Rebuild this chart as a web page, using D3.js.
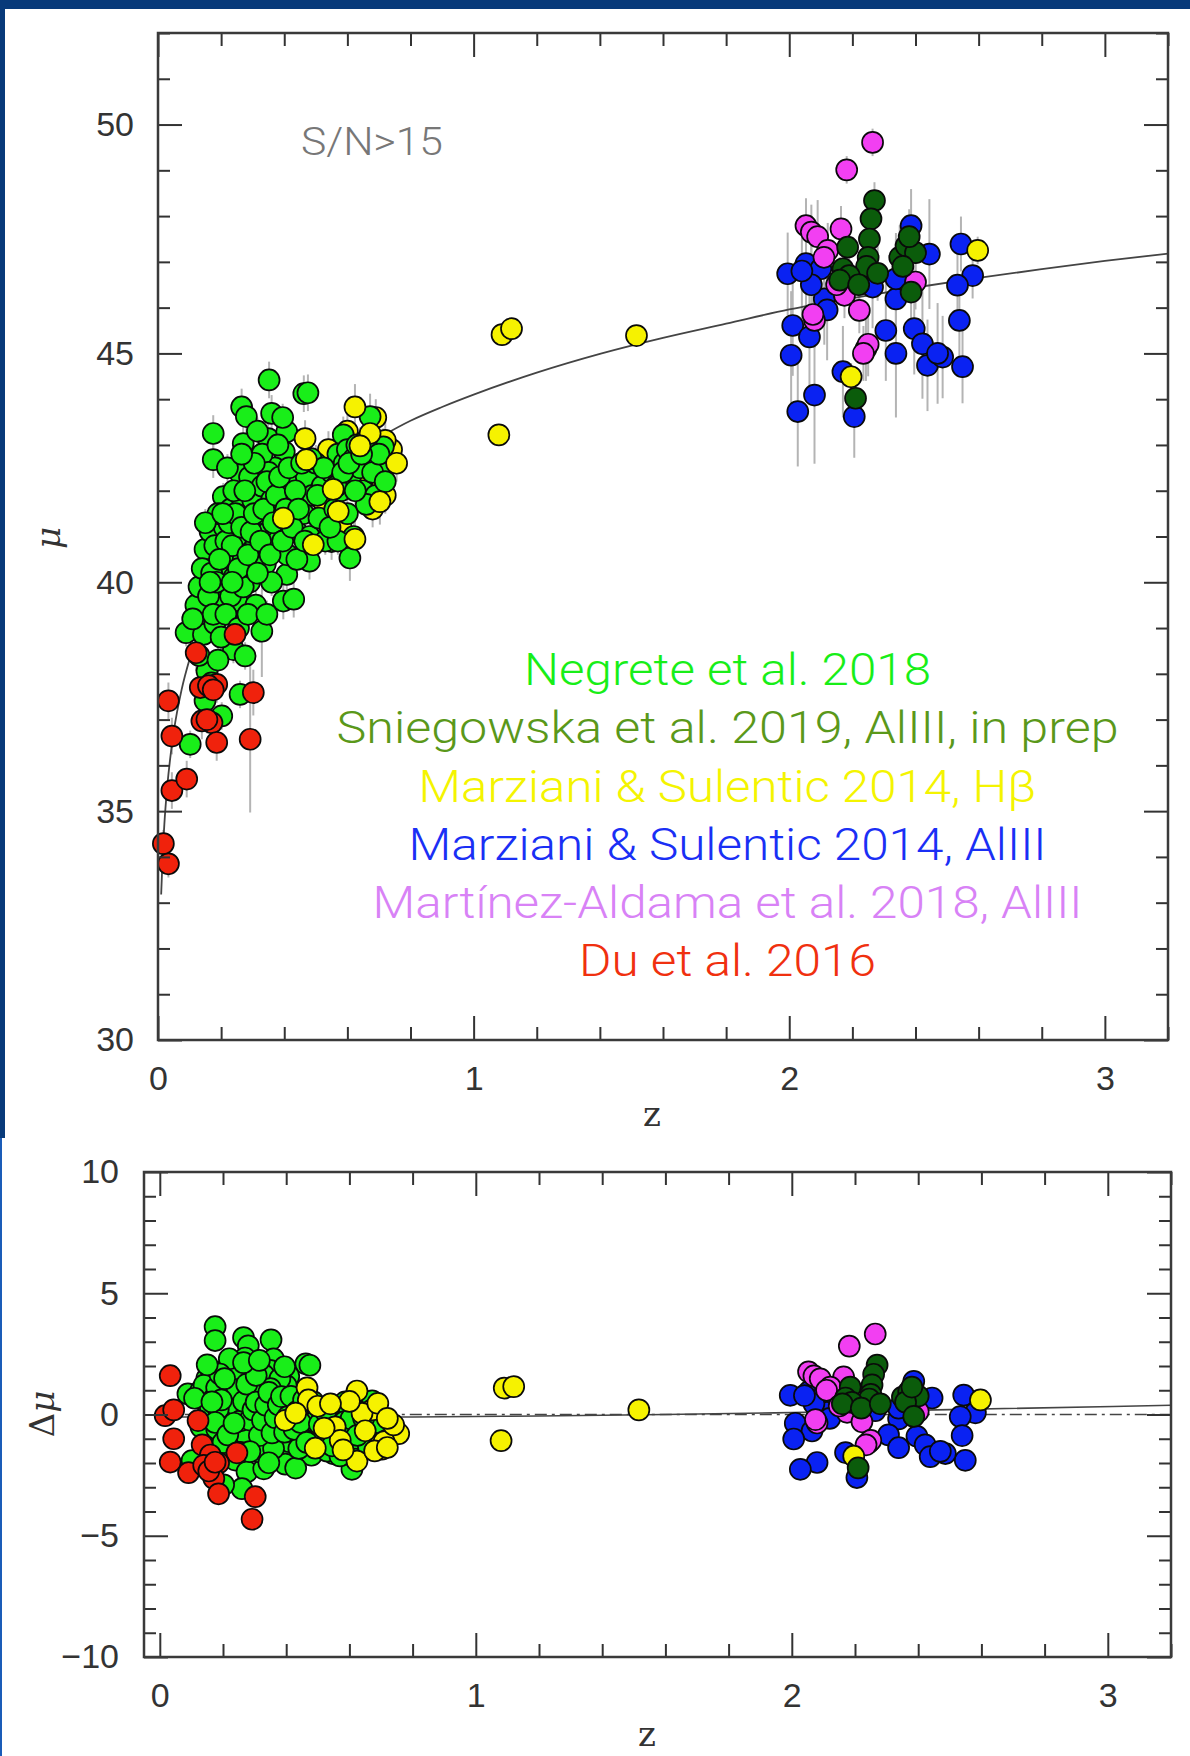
<!DOCTYPE html>
<html>
<head>
<meta charset="utf-8">
<script src="https://cdn.jsdelivr.net/npm/d3@7"></script>
<style>
  html, body { margin: 0; padding: 0; background: #fff; }
  svg { display: block; }
</style>
</head>
<body>
<svg id="chart" width="1190" height="1756"></svg>
<script>
// ---------- Hubble diagram: distance modulus vs redshift ----------
// Each top-panel point is [z, mu, sigma_mu]; each residual point is [z, delta_mu].

const negreteMu = [
  [0.352,44.42,0.4],[0.462,44.12,0.4],[0.475,44.14,0.4],[0.265,43.83,0.4],[0.28,43.62,0.4],[0.36,43.69,0.4],
  [0.175,43.25,0.4],[0.175,42.68,0.4],[0.27,43.03,0.4],[0.349,43.14,0.4],[0.408,43.29,0.5],[0.40,42.85,0.4],
  [0.26,42.38,0.3],[0.207,41.87,0.3],[0.672,43.62,0.5],[0.714,42.96,0.4],[0.703,42.42,0.4],[0.587,43.22,0.4],
  [0.608,40.53,0.5],[0.55,40.89,0.4],[0.48,40.46,0.4],[0.149,40.72,0.3],[0.165,41.11,0.3],[0.186,40.28,0.3],
  [0.408,40.17,0.4],[0.33,40.2,0.4],[0.089,38.9,0.3],[0.144,38.86,0.3],[0.239,38.53,0.3],[0.276,38.39,0.3],
  [0.329,38.93,1.0],[0.155,38.06,0.3],[0.26,37.55,0.3],[0.149,37.41,0.3],[0.202,37.08,0.3],[0.102,36.46,0.3],
  [0.397,39.59,0.4],[0.43,39.63,0.4],[0.154,39.44,0.3],[0.2,39.5,0.3],[0.25,39.6,0.3],[0.31,39.5,0.3],
  [0.21,41.2,0.3],[0.22,40.6,0.3],[0.23,41.6,0.3],[0.24,40.1,0.3],[0.25,41.0,0.3],[0.26,41.9,0.3],
  [0.27,40.5,0.3],[0.28,41.4,0.3],[0.29,40.0,0.3],[0.30,41.8,0.3],[0.2,39.9,0.3],[0.23,39.7,0.3],
  [0.27,39.9,0.3],[0.29,42.3,0.3],[0.24,42.0,0.3],[0.22,42.5,0.3],[0.31,40.8,0.3],[0.32,41.5,0.3],
  [0.33,42.1,0.3],[0.34,40.4,0.3],[0.35,41.1,0.3],[0.36,41.8,0.3],[0.37,42.5,0.3],[0.38,40.9,0.3],
  [0.39,41.4,0.3],[0.40,42.1,0.3],[0.41,40.6,0.3],[0.42,41.7,0.3],[0.43,42.4,0.3],[0.44,41.1,0.3],
  [0.45,42.0,0.3],[0.36,40.0,0.3],[0.33,42.8,0.3],[0.38,43.0,0.3],[0.35,42.4,0.3],[0.44,40.5,0.3],
  [0.46,41.5,0.3],[0.47,42.3,0.3],[0.48,41.0,0.3],[0.49,41.9,0.3],[0.50,42.6,0.3],[0.51,41.4,0.3],
  [0.52,42.1,0.3],[0.53,40.9,0.3],[0.55,42.4,0.3],[0.56,41.6,0.3],[0.57,42.8,0.3],[0.58,42.0,0.3],
  [0.59,42.6,0.3],[0.60,42.9,0.3],[0.61,42.3,0.3],[0.62,42.7,0.3],[0.63,43.0,0.3],[0.60,41.5,0.3],
  [0.62,41.0,0.3],[0.57,40.9,0.3],[0.64,42.5,0.3],[0.65,42.0,0.3],[0.66,43.1,0.3],[0.68,42.4,0.3],
  [0.69,41.9,0.3],[0.70,42.8,0.3],[0.72,42.2,0.3],[0.66,41.7,0.3],[0.12,39.5,0.3],[0.13,39.9,0.3],
  [0.14,40.3,0.3],[0.16,39.7,0.3],[0.17,40.2,0.3],[0.18,40.8,0.3],[0.19,41.5,0.3],[0.15,41.3,0.3],
  [0.11,39.2,0.3],[0.13,38.4,0.3],[0.17,37.8,0.3],[0.18,39.1,0.3],[0.19,38.3,0.3],[0.2,38.8,0.3],
  [0.215,40.9,0.3],[0.225,41.3,0.3],[0.235,40.8,0.3],[0.245,41.5,0.3],[0.255,40.3,0.3],[0.265,41.2,0.3],
  [0.275,42.0,0.3],[0.285,40.6,0.3],[0.295,41.1,0.3],[0.305,41.5,0.3],[0.315,40.2,0.3],[0.325,40.9,0.3],
  [0.335,41.6,0.3],[0.345,42.2,0.3],[0.355,40.6,0.3],[0.365,41.3,0.3],[0.375,41.9,0.3],[0.385,42.3,0.3],
  [0.395,40.9,0.3],[0.405,41.6,0.3],[0.415,42.5,0.3],[0.425,41.2,0.3],[0.435,42.0,0.3],[0.445,41.6,0.3],
  [0.455,42.6,0.3],[0.465,40.9,0.3],[0.485,42.7,0.3],[0.505,41.9,0.3],[0.525,42.5,0.3],[0.545,41.2,0.3],
  [0.565,42.1,0.3],[0.585,42.4,0.3],[0.605,42.6,0.3],[0.625,42.0,0.3],[0.645,42.8,0.3],[0.185,40.0,0.3],
  [0.195,40.5,0.3],[0.205,41.5,0.3],[0.165,40.0,0.3],[0.175,39.3,0.3],[0.215,39.3,0.3],[0.235,40.0,0.3],
  [0.255,39.0,0.3],[0.285,39.3,0.3],[0.345,39.3,0.3],[0.305,42.6,0.3],[0.265,42.8,0.3],[0.315,43.3,0.3],
  [0.395,43.6,0.3]
];
const negreteDmu = [
  [0.352,3.08],[0.462,2.09],[0.475,2.03],[0.265,3.17],[0.28,2.83],[0.36,2.29],[0.175,3.62],[0.175,3.05],
  [0.27,2.33],[0.349,1.82],[0.408,1.58],[0.40,1.19],[0.26,1.77],[0.207,1.83],[0.672,0.56],[0.714,-0.27],
  [0.703,-0.77],[0.587,0.52],[0.608,-2.26],[0.55,-1.62],[0.48,-1.68],[0.149,1.49],[0.165,1.63],[0.186,0.50],
  [0.408,-1.54],[0.33,-0.98],[0.089,0.85],[0.144,-0.29],[0.239,-1.88],[0.276,-2.36],[0.329,-2.24],[0.155,-1.27],
  [0.26,-3.06],[0.149,-1.82],[0.202,-2.90],[0.102,-1.90],[0.397,-2.05],[0.43,-2.21],[0.154,0.13],[0.2,-0.46],
  [0.25,-0.92],[0.31,-1.53],[0.21,1.12],[0.22,0.40],[0.23,1.29],[0.24,-0.32],[0.25,0.48],[0.26,1.29],
  [0.27,-0.20],[0.28,0.61],[0.29,-0.87],[0.30,0.85],[0.2,-0.06],[0.23,-0.61],[0.27,-0.80],[0.29,1.43],
  [0.24,1.58],[0.22,2.30],[0.31,-0.23],[0.32,0.39],[0.33,0.92],[0.34,-0.85],[0.35,-0.23],[0.36,0.40],
  [0.37,1.03],[0.38,-0.63],[0.39,-0.20],[0.40,0.44],[0.41,-1.12],[0.42,-0.08],[0.43,0.56],[0.44,-0.80],
  [0.45,0.04],[0.36,-1.40],[0.33,1.62],[0.38,1.47],[0.35,1.07],[0.44,-1.40],[0.46,-0.52],[0.47,0.22],
  [0.48,-1.14],[0.49,-0.30],[0.50,0.34],[0.51,-0.91],[0.52,-0.26],[0.53,-1.51],[0.55,-0.11],[0.56,-0.96],
  [0.57,0.19],[0.58,-0.66],[0.59,-0.11],[0.60,0.14],[0.61,-0.50],[0.62,-0.14],[0.63,0.11],[0.60,-1.26],
  [0.62,-1.84],[0.57,-1.71],[0.64,-0.43],[0.65,-0.97],[0.66,0.09],[0.68,-0.70],[0.69,-1.24],[0.70,-0.38],
  [0.72,-1.06],[0.66,-1.31],[0.12,0.77],[0.13,0.99],[0.14,1.21],[0.16,0.29],[0.17,0.64],[0.18,1.10],
  [0.19,1.67],[0.15,2.05],[0.11,0.67],[0.13,-0.51],[0.17,-1.76],[0.18,-0.60],[0.19,-1.53],[0.2,-1.16],
  [0.215,0.76],[0.225,1.05],[0.235,0.44],[0.245,1.03],[0.255,-0.26],[0.265,0.54],[0.275,1.25],[0.285,-0.23],
  [0.295,0.19],[0.305,0.51],[0.315,-0.87],[0.325,-0.24],[0.335,0.38],[0.345,0.91],[0.355,-0.76],[0.365,-0.13],
  [0.375,0.40],[0.385,0.74],[0.395,-0.73],[0.405,-0.09],[0.415,0.75],[0.425,-0.61],[0.435,0.13],[0.445,-0.33],
  [0.455,0.61],[0.465,-1.15],[0.485,0.53],[0.505,-0.39],[0.525,0.11],[0.545,-1.29],[0.565,-0.49],[0.585,-0.29],
  [0.605,-0.18],[0.625,-0.86],[0.645,-0.15],[0.185,0.23],[0.195,0.60],[0.205,1.48],[0.165,0.52],[0.175,-0.33],
  [0.215,-0.84],[0.235,-0.36],[0.255,-1.56],[0.285,-1.53],[0.345,-1.99],[0.305,1.61],[0.265,2.14],[0.315,2.23],
  [0.395,1.97]
];

const marzianiAlMu = [
  [2.386,47.79,0.8],[2.444,47.17,1.2],[2.544,47.39,0.6],[2.581,46.70,0.5],[2.533,46.49,1.0],[2.539,45.72,0.9],
  [2.549,44.71,0.8],[1.995,46.74,0.9],[2.053,46.96,1.0],[2.10,46.85,0.8],[2.111,46.19,1.0],[2.12,45.95,1.1],
  [2.011,45.61,1.1],[2.064,45.36,1.3],[2.006,44.96,1.4],[2.08,44.09,1.5],[2.027,43.73,1.2],[2.206,43.62,0.9],
  [2.17,44.6,1.0],[2.264,46.45,0.9],[2.338,46.19,1.3],[2.306,45.5,1.1],[2.338,45.0,1.4],[2.396,45.54,1.0],
  [2.422,45.21,1.2],[2.438,44.74,1.0],[2.486,44.92,0.9],[2.338,46.63,1.0],[2.07,46.5,1.1],[2.04,46.8,1.2],
  [2.47,45.0,1.1]
];
const marzianiAlDmu = [
  [2.386,1.37],[2.444,0.68],[2.544,0.80],[2.581,0.07],[2.533,-0.09],[2.539,-0.87],[2.549,-1.89],[1.995,0.79],
  [2.053,0.93],[2.10,0.76],[2.111,0.09],[2.12,-0.16],[2.011,-0.36],[2.064,-0.68],[2.006,-1.01],[2.08,-1.98],
  [2.027,-2.26],[2.206,-2.60],[2.17,-1.57],[2.264,0.16],[2.338,-0.18],[2.306,-0.84],[2.338,-1.37],[2.396,-0.90],
  [2.422,-1.25],[2.438,-1.74],[2.486,-1.61],[2.338,0.26],[2.07,0.44],[2.04,0.78],[2.47,-1.52]
];

const martinezMu = [
  [2.264,49.61,0.3],[2.182,49.01,0.3],[2.053,47.79,0.6],[2.07,47.65,0.6],[2.09,47.55,0.8],[2.164,47.72,0.5],
  [2.122,47.25,0.6],[2.11,47.1,0.6],[2.175,46.27,0.5],[2.222,45.94,0.5],[2.08,45.72,0.6],[2.075,45.85,0.6],
  [2.243,45.10,0.7],[2.25,45.2,0.7],[2.235,45.0,0.6],[2.15,46.5,0.5],[2.40,46.56,0.6]
];
const martinezDmu = [
  [2.264,3.32],[2.182,2.82],[2.053,1.76],[2.07,1.59],[2.09,1.47],[2.164,1.55],[2.122,1.13],[2.11,1.0],
  [2.175,0.09],[2.222,-0.30],[2.08,-0.35],[2.075,-0.21],[2.243,-1.16],[2.25,-1.07],[2.235,-1.25],[2.15,0.35],
  [2.40,0.12]
];

// the first dozen low-z H-beta objects sit on top of the Negrete cloud, the rest underneath it
const marzianiHbMu = [
  [0.624,43.83,0.5],[0.466,43.14,0.4],[0.47,42.68,0.4],[0.756,42.6,0.4],[0.672,43.25,0.4],[0.64,42.98,0.4],
  [0.555,42.03,0.4],[0.571,41.55,0.4],[0.397,41.4,0.4],[0.624,40.94,0.4],[0.492,40.82,0.4],[0.703,41.76,0.5],
  [0.70,42.0,0.4],[0.71,42.1,0.4],[0.65,42.3,0.4],[0.50,42.6,0.4],[0.52,41.8,0.4],[0.58,41.2,0.4],
  [0.43,41.9,0.4],[0.68,41.6,0.4],[0.72,41.9,0.4],[0.74,42.9,0.4],[0.60,43.3,0.4],[0.54,42.9,0.4],
  [0.69,43.6,0.4],[0.72,43.1,0.4],[1.08,43.22,0.2],[1.09,45.41,0.2],[1.12,45.54,0.2],[1.516,45.39,0.2],
  [2.597,47.25,0.3],[2.196,44.49,0.3]
];
const marzianiHbDmu = [
  [0.624,0.97],[0.466,1.10],[0.47,0.60],[0.756,-0.79],[0.672,0.19],[0.64,0.05],[0.555,-0.51],[0.571,-1.07],
  [0.397,-0.24],[0.624,-1.92],[0.492,-1.39],[0.703,-1.43],[0.70,-1.18],[0.71,-1.12],[0.65,-0.67],[0.50,0.34],
  [0.52,-0.56],[0.58,-1.46],[0.43,0.06],[0.68,-1.50],[0.72,-1.36],[0.74,-0.43],[0.60,0.54],[0.54,0.44],
  [0.69,0.46],[0.72,-0.16],[1.08,-1.08],[1.09,1.09],[1.12,1.15],[1.516,0.19],[2.597,0.60],[2.196,-1.72]
];

const sniegowskaMu = [
  [2.27,48.34,0.4],[2.259,47.94,0.5],[2.254,47.5,0.5],[2.185,47.32,0.6],[2.25,47.1,0.6],[2.245,46.9,0.6],
  [2.17,46.85,0.6],[2.19,46.7,0.6],[2.16,46.6,0.5],[2.35,47.1,0.7],[2.37,47.35,0.6],[2.40,47.2,0.8],
  [2.36,46.9,0.6],[2.386,46.34,0.6],[2.21,44.02,0.4],[2.22,46.5,0.6],[2.28,46.75,0.6],[2.38,47.55,0.6]
];
const sniegowskaDmu = [
  [2.27,2.04],[2.259,1.66],[2.254,1.22],[2.185,1.13],[2.25,0.83],[2.245,0.64],[2.17,0.68],[2.19,0.50],
  [2.16,0.44],[2.35,0.72],[2.37,0.94],[2.40,0.76],[2.36,0.51],[2.386,-0.08],[2.21,-2.20],[2.22,0.26],
  [2.28,0.44],[2.38,1.13]
];

const duMu = [
  [0.017,34.29,0.3],[0.033,33.85,0.3],[0.033,37.41,0.4],[0.044,36.64,0.4],[0.044,35.45,0.4],[0.091,35.70,0.4],
  [0.121,38.46,0.4],[0.244,38.86,0.4],[0.134,37.70,0.4],[0.186,37.77,0.4],[0.16,37.74,0.4],[0.139,36.97,0.4],
  [0.171,36.93,0.4],[0.186,36.50,0.4],[0.292,36.57,1.6],[0.302,37.59,0.5],[0.155,37.0,0.3],[0.175,37.65,0.3]
];
const duDmu = [
  [0.017,-0.05],[0.033,-1.96],[0.033,1.60],[0.044,0.19],[0.044,-1.00],[0.091,-2.40],[0.121,-0.25],[0.244,-1.58],
  [0.134,-1.25],[0.186,-2.00],[0.16,-1.67],[0.139,-2.10],[0.171,-2.64],[0.186,-3.27],[0.292,-4.32],[0.302,-3.39],
  [0.155,-2.33],[0.175,-1.97]
];

// concordance-model distance modulus, and the fitted curve in the residual panel
const modelCurve = [
  [0.01,33.18],[0.015,34.06],[0.02,34.70],[0.03,35.59],[0.04,36.23],[0.05,36.74],[0.075,37.66],[0.1,38.32],
  [0.15,39.25],[0.2,39.96],[0.25,40.52],[0.3,40.95],[0.4,41.66],[0.5,42.26],[0.6,42.76],[0.7,43.16],
  [0.8,43.53],[0.9,43.83],[1.0,44.10],[1.2,44.58],[1.4,44.99],[1.6,45.34],[1.8,45.65],[2.0,45.96],
  [2.2,46.21],[2.4,46.44],[2.6,46.65],[2.8,46.84],[3.0,47.02],[3.2,47.18]
];
const residualFit = [[0,-0.1],[0.8,-0.1],[1.2,-0.06],[1.6,0.0],[2.0,0.08],[2.5,0.2],[3.2,0.38]];
const zeroLine = [[0,0],[3.2,0]];

// tick values
const zMajor = [0, 1, 2, 3];
const zMinor = d3.range(1, 17).map(i => +(i * 0.2).toFixed(1)).filter(v => Math.abs(v - Math.round(v)) > 1e-6);
const muMajor = [30, 35, 40, 45, 50];
const muMinor = d3.range(30, 53).filter(v => v % 5 !== 0);
const dMajor = [-10, -5, 0, 5, 10];
const dMinor = d3.range(-10, 11).filter(v => v % 5 !== 0);

// legend
const legendLabels = [
  "Negrete et al. 2018",
  "Sniegowska et al. 2019, AlIII, in prep",
  "Marziani & Sulentic 2014, Hβ",
  "Marziani & Sulentic 2014, AlIII",
  "Martínez-Aldama et al. 2018, AlIII",
  "Du et al. 2016"
];
const legendColors = ["#18ee18", "#5a981a", "#f4f400", "#1a2ff5", "#d882f6", "#f0300f"];
const legendWidths = [407, 782, 618, 638, 710, 297];

// ---------- drawing ----------
const W = 1190, H = 1756;
const svg = d3.select("#chart");

// slide border
svg.append("rect").attr("x", 0).attr("y", 0).attr("width", W).attr("height", 9).attr("fill", "#083a7a");
svg.append("rect").attr("x", 0).attr("y", 0).attr("width", 5).attr("height", 1138).attr("fill", "#083a7a");
svg.append("rect").attr("x", 0).attr("y", 1138).attr("width", 2).attr("height", H - 1138).attr("fill", "#1a5cb8");

const topX = d3.scaleLinear().domain([0, 3.2]).range([158, 1168]);
const topY = d3.scaleLinear().domain([30, 52]).range([1040, 33]);
const botX = d3.scaleLinear().domain([-0.05, 3.2]).range([144, 1171]);
const botY = d3.scaleLinear().domain([-10, 10]).range([1657, 1172]);

const col = {
  negrete: "#19ee19", marzAl: "#0a22f2", martinez: "#f23ff2",
  marzHb: "#f6f200", snieg: "#0b5c0b", du: "#f0220c"
};

// stacking order of the samples in each panel
const hbFront = marzianiHbMu.filter((d, i) => i < 12 || d[0] >= 0.9);
const hbBack = marzianiHbMu.filter((d, i) => i >= 12 && d[0] < 0.9);
const topLayers = [
  { color: col.marzHb,   data: hbBack },
  { color: col.negrete,  data: negreteMu },
  { color: col.marzAl,   data: marzianiAlMu },
  { color: col.martinez, data: martinezMu },
  { color: col.marzHb,   data: hbFront },
  { color: col.snieg,    data: sniegowskaMu },
  { color: col.du,       data: duMu }
];
const bottomLayers = [
  { color: col.negrete,  data: negreteDmu },
  { color: col.marzAl,   data: marzianiAlDmu },
  { color: col.martinez, data: martinezDmu },
  { color: col.marzHb,   data: marzianiHbDmu },
  { color: col.snieg,    data: sniegowskaDmu },
  { color: col.du,       data: duDmu }
];

const tickFont = "'Liberation Sans', Arial, Helvetica, sans-serif";
const axisColor = "#333";

function drawAxes(x, y, yMajor, yMinor, xPad, yPad) {
  const [xl, xr] = x.range();
  const [yb, yt] = y.range();
  const g = svg.append("g").attr("color", axisColor);
  const styleTicks = sel => {
    sel.selectAll(".domain").remove();
    sel.selectAll("line").attr("stroke-width", 2);
    sel.attr("font-size", 34).attr("font-family", tickFont);
    sel.selectAll("text").attr("fill", "#333");
  };
  // bottom
  g.append("g").attr("transform", `translate(0,${yb})`)
    .call(d3.axisBottom(x).tickValues(zMajor).tickSize(-24).tickSizeOuter(0).tickPadding(xPad).tickFormat(d3.format("d")))
    .call(styleTicks);
  g.append("g").attr("transform", `translate(0,${yb})`)
    .call(d3.axisBottom(x).tickValues(zMinor).tickSize(-13).tickSizeOuter(0).tickFormat(""))
    .call(styleTicks);
  // top
  g.append("g").attr("transform", `translate(0,${yt})`)
    .call(d3.axisTop(x).tickValues(zMajor).tickSize(-24).tickSizeOuter(0).tickFormat(""))
    .call(styleTicks);
  g.append("g").attr("transform", `translate(0,${yt})`)
    .call(d3.axisTop(x).tickValues(zMinor).tickSize(-13).tickSizeOuter(0).tickFormat(""))
    .call(styleTicks);
  // left
  g.append("g").attr("transform", `translate(${xl},0)`)
    .call(d3.axisLeft(y).tickValues(yMajor).tickSize(-24).tickSizeOuter(0).tickPadding(yPad).tickFormat(d3.format("d")))
    .call(styleTicks);
  g.append("g").attr("transform", `translate(${xl},0)`)
    .call(d3.axisLeft(y).tickValues(yMinor).tickSize(-12).tickSizeOuter(0).tickFormat(""))
    .call(styleTicks);
  // right
  g.append("g").attr("transform", `translate(${xr},0)`)
    .call(d3.axisRight(y).tickValues(yMajor).tickSize(-24).tickSizeOuter(0).tickFormat(""))
    .call(styleTicks);
  g.append("g").attr("transform", `translate(${xr},0)`)
    .call(d3.axisRight(y).tickValues(yMinor).tickSize(-12).tickSizeOuter(0).tickFormat(""))
    .call(styleTicks);
  // frame
  g.append("rect")
    .attr("x", xl).attr("y", yt).attr("width", xr - xl).attr("height", yb - yt)
    .attr("fill", "none").attr("stroke", "#3a3a3a").attr("stroke-width", 2.5);
}

function drawErrors(parent, x, y, data) {
  parent.append("g").selectAll("line").data(data).join("line")
    .attr("x1", d => x(d[0])).attr("x2", d => x(d[0]))
    .attr("y1", d => y(d[1] - d[2])).attr("y2", d => y(d[1] + d[2]))
    .attr("stroke", "#b4b4b4").attr("stroke-width", 2);
}

function drawPoints(parent, x, y, data, color) {
  parent.append("g").selectAll("circle").data(data).join("circle")
    .attr("cx", d => x(d[0])).attr("cy", d => y(d[1]))
    .attr("r", 10.5)
    .attr("fill", color)
    .attr("stroke", "#0a0a0a").attr("stroke-width", 1.7);
}

// ----- top panel: mu vs z -----
const topErr = svg.append("g");
topLayers.forEach(l => drawErrors(topErr, topX, topY, l.data));
svg.append("path")
  .datum(modelCurve)
  .attr("d", d3.line().x(d => topX(d[0])).y(d => topY(d[1])).curve(d3.curveMonotoneX))
  .attr("fill", "none").attr("stroke", "#444").attr("stroke-width", 1.8);
const topPts = svg.append("g");
topLayers.forEach(l => drawPoints(topPts, topX, topY, l.data, l.color));
drawAxes(topX, topY, muMajor, muMinor, 26, 24);

svg.append("text")
  .attr("x", 301).attr("y", 155)
  .attr("font-family", "'Helvetica Neue', Roboto, 'Liberation Sans', Arial, sans-serif")
  .attr("font-weight", 300).attr("font-size", 39).attr("fill", "#777")
  .attr("textLength", 142).attr("lengthAdjust", "spacingAndGlyphs")
  .text("S/N>15");

const legendBaselines = [685, 743, 801.5, 860, 918, 976];
svg.append("g").selectAll("text").data(legendLabels).join("text")
  .attr("x", 727.5).attr("y", (d, i) => legendBaselines[i])
  .attr("text-anchor", "middle")
  .attr("font-family", "'Helvetica Neue', Roboto, 'Liberation Sans', Arial, sans-serif")
  .attr("font-weight", 300).attr("font-size", 45)
  .attr("fill", (d, i) => legendColors[i])
  .attr("textLength", (d, i) => legendWidths[i]).attr("lengthAdjust", "spacingAndGlyphs")
  .text(d => d);

svg.append("text")
  .attr("transform", "translate(60,538) rotate(-90)")
  .attr("text-anchor", "middle")
  .attr("font-family", "'DejaVu Serif', 'Liberation Serif', serif")
  .attr("font-style", "italic").attr("font-size", 34).attr("fill", "#333")
  .text("μ");
svg.append("text")
  .attr("x", 652).attr("y", 1126).attr("text-anchor", "middle")
  .attr("font-family", "'DejaVu Serif', 'Liberation Serif', serif")
  .attr("font-size", 34).attr("fill", "#333")
  .text("z");

// ----- bottom panel: residuals -----
const lineGen = d3.line().x(d => botX(d[0])).y(d => botY(d[1]));
svg.append("path").datum(zeroLine).attr("d", lineGen)
  .attr("fill", "none").attr("stroke", "#444").attr("stroke-width", 1.6)
  .attr("stroke-dasharray", "12,5,3,5");
svg.append("path").datum(residualFit).attr("d", lineGen.curve(d3.curveMonotoneX))
  .attr("fill", "none").attr("stroke", "#444").attr("stroke-width", 1.6);
const botPts = svg.append("g");
bottomLayers.forEach(l => drawPoints(botPts, botX, botY, l.data, l.color));
drawAxes(botX, botY, dMajor, dMinor, 26, 25);

const dmuLabel = svg.append("text")
  .attr("transform", "translate(54,1414) rotate(-90)")
  .attr("text-anchor", "middle")
  .attr("font-family", "'DejaVu Serif', 'Liberation Serif', serif")
  .attr("font-size", 34).attr("fill", "#333");
dmuLabel.append("tspan").text("Δ");
dmuLabel.append("tspan").attr("font-style", "italic").text("μ");
svg.append("text")
  .attr("x", 647).attr("y", 1746).attr("text-anchor", "middle")
  .attr("font-family", "'DejaVu Serif', 'Liberation Serif', serif")
  .attr("font-size", 34).attr("fill", "#333")
  .text("z");
</script>
</body>
</html>
